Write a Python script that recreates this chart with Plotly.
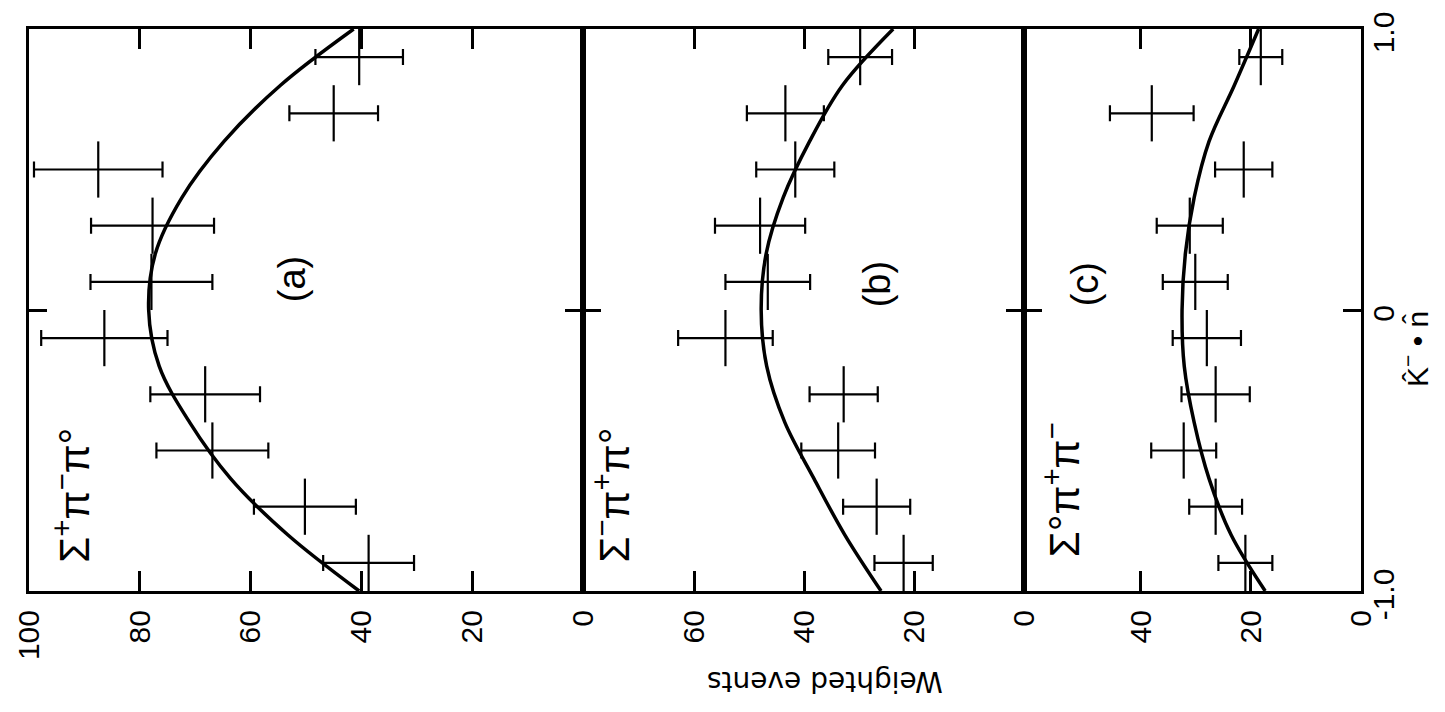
import plotly.graph_objects as go
from plotly.subplots import make_subplots

# ---------------- data ----------------
k_bins = [-0.9, -0.7, -0.5, -0.3, -0.1, 0.1, 0.3, 0.5, 0.7, 0.9]
bin_half_width = 0.1

a_vals = [38.7, 50.2, 66.9, 68.2, 86.4, 77.9, 77.7, 87.5, 45.0, 40.4]
a_errs = [8.2, 9.2, 10.1, 9.9, 11.4, 11.0, 11.1, 11.6, 8.0, 7.9]
b_vals = [21.9, 26.8, 33.8, 32.8, 54.3, 46.6, 48.0, 41.6, 43.4, 29.8]
b_errs = [5.3, 6.1, 6.7, 6.2, 8.6, 7.7, 8.2, 7.1, 7.0, 5.8]
c_vals = [21.0, 26.4, 32.2, 26.4, 28.0, 30.1, 31.1, 21.3, 38.0, 18.2]
c_errs = [4.9, 4.8, 5.9, 6.2, 6.2, 5.9, 6.0, 5.2, 7.6, 3.9]

k_curve = [-1.0, -0.8, -0.6, -0.4, -0.2, 0.0, 0.2, 0.4, 0.6, 0.8, 1.0]
a_curve = [40.4, 53.3, 63.6, 71.0, 76.5, 78.4, 77.2, 72.4, 64.8, 54.6, 41.4]
b_curve = [26.0, 32.6, 38.2, 43.5, 46.8, 47.8, 46.9, 43.8, 39.0, 33.0, 23.8]
c_curve = [17.4, 23.6, 27.6, 30.3, 32.1, 32.5, 31.9, 30.3, 27.6, 23.0, 18.6]

panel_ranges = [[100, 0], [80.2, 0], [61.2, 0]]
panel_tickvals = [[0, 20, 40, 60, 80, 100], [0, 20, 40, 60], [0, 20, 40]]
panel_ticktext = [["0", "20", "40", "60", "80", "100"], ["0", "20", "40", "60"], ["0", "20", "40"]]
panel_letters = ["(a)", "(b)", "(c)"]
panel_names = ["Σ<sup>+</sup>π<sup>−</sup>π°", "Σ<sup>−</sup>π<sup>+</sup>π°", "Σ°π<sup>+</sup>π<sup>−</sup>"]
kn_ticks = [-1, 0, 1]
kn_ticktext = ["-1.0", "0", "1.0"]

# positions of text labels (data coordinates: events, k)
letter_pos = [(52.5, 0.11), (26.8, 0.09), (50.2, 0.09)]
name_pos = [(92.2, -0.66), (74.9, -0.66), (54.4, -0.64)]

FONT = "Liberation Sans, Arial, sans-serif"
TITLE_FONT = "DejaVu Sans, sans-serif"

fig = make_subplots(rows=1, cols=3, column_widths=[559, 445, 340], horizontal_spacing=0)

series = [(a_vals, a_errs, a_curve), (b_vals, b_errs, b_curve), (c_vals, c_errs, c_curve)]
for i, (vals, errs, curve) in enumerate(series):
    col = i + 1
    fig.add_trace(go.Scatter(x=curve, y=k_curve, mode="lines",
                             line=dict(color="black", width=3.5, shape="spline", smoothing=1.0),
                             hoverinfo="skip"), row=1, col=col)
    fig.add_trace(go.Scatter(x=vals, y=k_bins, mode="markers",
                             marker=dict(size=2, color="rgba(0,0,0,0)"),
                             error_x=dict(type="data", array=errs, visible=True, width=8,
                                          thickness=2.2, color="black"),
                             error_y=dict(type="constant", value=bin_half_width, visible=True,
                                          width=0, thickness=2.2, color="black")),
                  row=1, col=col)

axis_common = dict(showline=True, linewidth=3, linecolor="black", mirror="ticks",
                   ticks="inside", tickcolor="black", tickwidth=2.5,
                   showgrid=False, zeroline=False, ticklabeloverflow="allow")

for i in range(3):
    xa = "xaxis" if i == 0 else f"xaxis{i+1}"
    ya = "yaxis" if i == 0 else f"yaxis{i+1}"
    fig.update_layout(**{
        xa: dict(range=panel_ranges[i], tickvals=panel_tickvals[i], ticktext=panel_ticktext[i],
                 tickangle=-90, ticklen=20, ticklabelstandoff=4,
                 tickfont=dict(family=FONT, size=30, color="black"), **axis_common),
        ya: dict(range=[-1, 1], tickvals=kn_ticks if i == 2 else [0],
                 ticktext=kn_ticktext if i == 2 else ["0"],
                 showticklabels=(i == 2), side="right" if i == 2 else "left",
                 tickangle=-90, ticklen=18, ticklabelstandoff=-6, ticklabelshift=8,
                 tickfont=dict(family=FONT, size=30, color="black"), **axis_common),
    })
    xr = "x" if i == 0 else f"x{i+1}"
    yr = "y" if i == 0 else f"y{i+1}"
    fig.add_annotation(x=letter_pos[i][0], y=letter_pos[i][1], xref=xr, yref=yr,
                       xanchor="center", yanchor="middle",
                       text=panel_letters[i], showarrow=False, textangle=-90,
                       font=dict(family=FONT, size=38, color="black"))
    fig.add_annotation(x=name_pos[i][0], y=name_pos[i][1], xref=xr, yref=yr,
                       xanchor="center", yanchor="middle",
                       text=panel_names[i], showarrow=False, textangle=-90,
                       font=dict(family=FONT, size=42, color="black"))

fig.add_annotation(x=0.5975, y=-0.162, xref="paper", yref="paper",
                   xanchor="center", yanchor="middle",
                   text="Weighted events", showarrow=False, textangle=180,
                   font=dict(family=TITLE_FONT, size=28, color="black"))
fig.add_annotation(x=1.041, y=0.43, xref="paper", yref="paper",
                   xanchor="center", yanchor="middle",
                   text="K\u0302<sup>−</sup> • n\u0302", showarrow=False, textangle=-90,
                   font=dict(family=FONT, size=30, color="black"))

fig.update_layout(width=1445, height=712, margin=dict(l=17, r=84, t=20, b=121),
                  plot_bgcolor="white", paper_bgcolor="white", showlegend=False,
                  font=dict(family=FONT, size=30, color="black"))

fig.write_html("out.html")
